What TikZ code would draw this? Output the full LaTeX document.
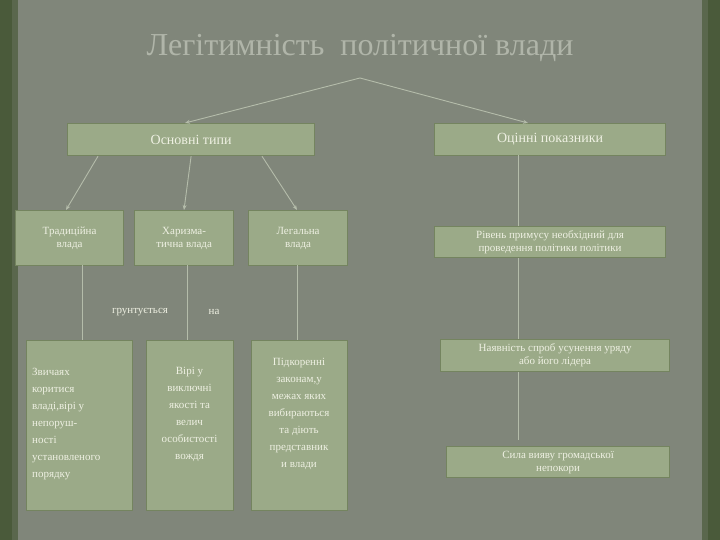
\documentclass[tikz,border=0pt]{standalone}
\usepackage{fontspec}
\setmainfont{Liberation Serif}
\usetikzlibrary{arrows.meta}
\definecolor{bg}{HTML}{80867A}
\definecolor{edge}{HTML}{4A5A3A}
\definecolor{boxf}{HTML}{9BAA88}
\definecolor{boxd}{HTML}{74845F}
\definecolor{txt}{HTML}{EEF0E2}
\definecolor{ln}{HTML}{B4BCAA}
\definecolor{ttl}{HTML}{B0B5A9}
\tikzset{
  bx/.style={draw=boxd,line width=1.2pt,fill=boxf,text=txt,align=center,inner sep=2pt,font=\fontsize{11}{13}\selectfont,anchor=north west},
  conn/.style={draw=ln,line width=0.9pt},
  arr/.style={conn,-{Stealth[length=5pt,width=4pt]}}
}
\begin{document}
\begin{tikzpicture}[x=1pt,y=-1pt]
\useasboundingbox (0,0) rectangle (720,540);
\fill[bg] (0,0) rectangle (720,540);
\fill[edge] (0,0) rectangle (12,540);
\fill[edge!70!bg] (12,0) rectangle (18,540);
\fill[edge] (708,0) rectangle (720,540);
\fill[edge!70!bg] (702,0) rectangle (708,540);
\node[text=ttl,font=\fontsize{32}{36}\selectfont] (title) at (360,48) {Легітимність\ \ політичної влади};
\coordinate (tb) at (360,78);
\coordinate (c1) at (82,340);
\coordinate (c2) at (187,340);
\coordinate (c3) at (297,340);
\node[bx,minimum width=247,minimum height=32,font=\fontsize{14}{16}\selectfont] (osn) at (67,123) {Основні типи};
\node[bx,minimum width=231,minimum height=32,font=\fontsize{14}{16}\selectfont] (oc) at (434,123) {Оцінні показники};
\coordinate (ocb) at (518,440);
\draw[conn] (518,155) -- (ocb);
\node[bx,minimum width=108,minimum height=55] (tr) at (15,210) {Традиційна\\влада};
\node[bx,minimum width=99,minimum height=55] (ch) at (134,210) {Харизма-\\тична влада};
\node[bx,minimum width=99,minimum height=55] (le) at (248,210) {Легальна\\влада};
\draw[conn] (82,265) -- (c1);
\draw[conn] (187,265) -- (c2);
\draw[conn] (297,265) -- (c3);
\node[text=txt,font=\fontsize{11}{13}\selectfont] (gr) at (140,312) {грунтується};
\node[text=txt,font=\fontsize{11}{13}\selectfont] (na) at (214,312) {на};
\node[bx,minimum width=106,minimum height=170] (z) at (26,340) {};
\node[text=txt,align=left,anchor=north west,inner sep=0pt,font=\fontsize{11}{17}\selectfont] (zt) at (32,368) {Звичаях\\коритися\\владі,вірі у\\непоруш-\\ності\\установленого\\порядку};
\node[bx,minimum width=87,minimum height=170] (v) at (146,340) {};
\node[text=txt,align=center,font=\fontsize{11}{17}\selectfont] (vt) at (189.5,414) {Вірі у\\виключні\\якості та\\велич\\особистості\\вождя};
\node[bx,minimum width=96,minimum height=170] (p) at (251,340) {};
\node[text=txt,align=center,font=\fontsize{11}{17}\selectfont] (pt) at (299,414) {Підкоренні\\законам,у\\межах яких\\вибираються\\та діють\\представник\\и влади};
\node[bx,minimum width=231,minimum height=31] (r) at (434,226) {Рівень примусу необхідний для\\проведення політики політики};
\node[bx,minimum width=229,minimum height=32] (n) at (440,339) {Наявність спроб усунення уряду\\або його лідера};
\node[bx,minimum width=223,minimum height=31] (s) at (446,446) {Сила вияву громадської\\непокори};
\draw[arr] (tb) -- (osn.north -| 185,0);
\draw[arr] (tb) -- (oc.north -| 528,0);
\draw[arr] (osn.south -| 98,0) -- (tr.north -| 66,0);
\draw[arr] (osn.south) -- (ch.north -| 184,0);
\draw[arr] (osn.south -| 262,0) -- (le.north -| 297,0);
\end{tikzpicture}
\end{document}
